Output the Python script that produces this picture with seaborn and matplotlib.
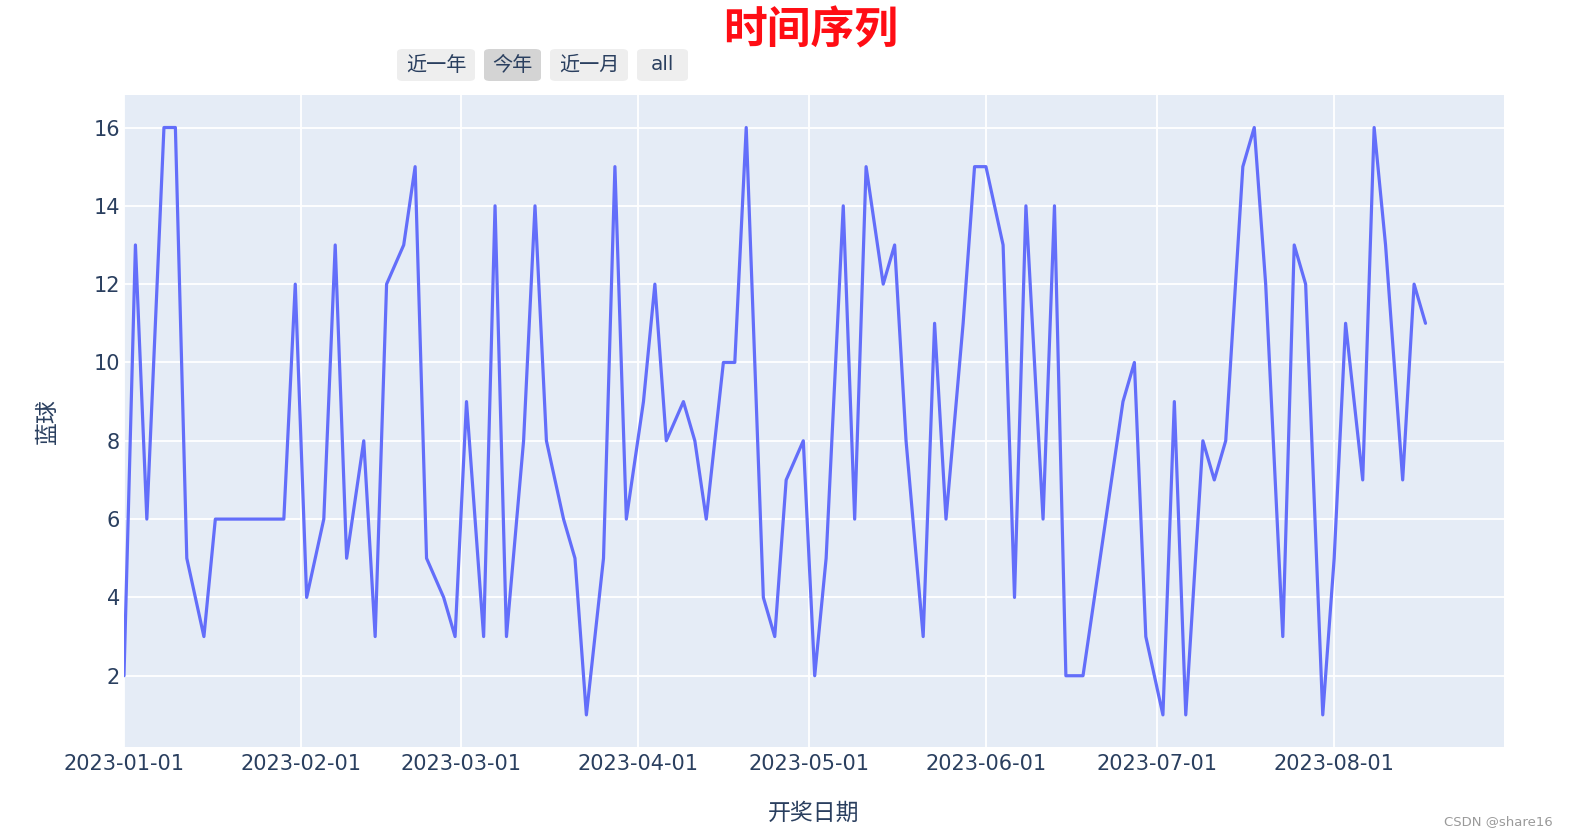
import pandas as pd
import matplotlib.pyplot as plt
import matplotlib.dates as mdates
from matplotlib.patches import FancyBboxPatch
import seaborn as sns

sns.set_style('white')
plt.rcParams['font.family'] = ['DejaVu Sans', 'Noto Sans CJK SC']

# 开奖日期 / 蓝球
dates = [
    '2023-01-01', '2023-01-03', '2023-01-05', '2023-01-08', '2023-01-10', '2023-01-12',
    '2023-01-15', '2023-01-17', '2023-01-29', '2023-01-31', '2023-02-02', '2023-02-05',
    '2023-02-07', '2023-02-09', '2023-02-12', '2023-02-14', '2023-02-16', '2023-02-19',
    '2023-02-21', '2023-02-23', '2023-02-26', '2023-02-28', '2023-03-02', '2023-03-05',
    '2023-03-07', '2023-03-09', '2023-03-12', '2023-03-14', '2023-03-16', '2023-03-19',
    '2023-03-21', '2023-03-23', '2023-03-26', '2023-03-28', '2023-03-30', '2023-04-02',
    '2023-04-04', '2023-04-06', '2023-04-09', '2023-04-11', '2023-04-13', '2023-04-16',
    '2023-04-18', '2023-04-20', '2023-04-23', '2023-04-25', '2023-04-27', '2023-04-30',
    '2023-05-02', '2023-05-04', '2023-05-07', '2023-05-09', '2023-05-11', '2023-05-14',
    '2023-05-16', '2023-05-18', '2023-05-21', '2023-05-23', '2023-05-25', '2023-05-28',
    '2023-05-30', '2023-06-01', '2023-06-04', '2023-06-06', '2023-06-08', '2023-06-11',
    '2023-06-13', '2023-06-15', '2023-06-18', '2023-06-20', '2023-06-22', '2023-06-25',
    '2023-06-27', '2023-06-29', '2023-07-02', '2023-07-04', '2023-07-06', '2023-07-09',
    '2023-07-11', '2023-07-13', '2023-07-16', '2023-07-18', '2023-07-20', '2023-07-23',
    '2023-07-25', '2023-07-27', '2023-07-30', '2023-08-01', '2023-08-03', '2023-08-06',
    '2023-08-08', '2023-08-10', '2023-08-13', '2023-08-15', '2023-08-17',
]
blue_ball = [
    2, 13, 6, 16, 16, 5,
    3, 6, 6, 12, 4, 6,
    13, 5, 8, 3, 12, 13,
    15, 5, 4, 3, 9, 3,
    14, 3, 8, 14, 8, 6,
    5, 1, 5, 15, 6, 9,
    12, 8, 9, 8, 6, 10,
    10, 16, 4, 3, 7, 8,
    2, 5, 14, 6, 15, 12,
    13, 8, 3, 11, 6, 11,
    15, 15, 13, 4, 14, 6,
    14, 2, 2, 4, 6, 9,
    10, 3, 1, 9, 1, 8,
    7, 8, 15, 16, 12, 3,
    13, 12, 1, 5, 11, 7,
    16, 13, 7, 12, 11,
]
buttons = ['近一年', '今年', '近一月', 'all']
active_button = '今年'

df = pd.DataFrame({'开奖日期': pd.to_datetime(dates), '蓝球': blue_ball})

W, H = 1574, 840
fig = plt.figure(figsize=(W / 100, H / 100), dpi=100)
ax = fig.add_axes([124 / W, 1 - 747 / H, 1380 / W, (747 - 95) / H])

txt_color = '#2a3f5f'
sns.lineplot(data=df, x='开奖日期', y='蓝球', ax=ax, color='#636efa', linewidth=2.3)

ax.set_facecolor('#e5ecf6')
for s in ax.spines.values():
    s.set_visible(False)
ax.grid(True, color='white', linewidth=1.3)
ax.set_axisbelow(True)

ax.set_xlim(pd.Timestamp('2023-01-01'), pd.Timestamp('2023-08-30 18:00'))
ax.set_ylim(0.18, 16.83)
ax.set_yticks(range(2, 17, 2))
ax.xaxis.set_major_locator(mdates.MonthLocator())
ax.xaxis.set_major_formatter(mdates.DateFormatter('%Y-%m-%d'))
ax.tick_params(axis='both', length=0, labelsize=15, colors=txt_color)
ax.tick_params(axis='x', pad=5)
ax.tick_params(axis='y', pad=3)

ax.set_xlabel('开奖日期', fontsize=16.5, color=txt_color, labelpad=20)
ax.set_ylabel('蓝球', fontsize=16.5, color=txt_color, labelpad=25)

fig.text(811 / W, 1 - 31 / H, '时间序列', ha='center', va='center',
         fontsize=31.5, fontweight='bold', color='#ff0d14')

# range selector buttons
edges = [(397, 475), (484, 541), (550, 628), (637, 688)]
for lab, (x0, x1) in zip(buttons, edges):
    fc = '#d4d4d4' if lab == active_button else '#eeeeee'
    box = FancyBboxPatch((x0 / W, 1 - 81 / H), (x1 - x0) / W, 32 / H,
                         boxstyle='round,pad=0,rounding_size=0.004',
                         transform=fig.transFigure, fc=fc, ec='none')
    fig.patches.append(box)
    fig.text((x0 + x1) / 2 / W, 1 - 65 / H, lab, ha='center', va='center',
             fontsize=14.5, color=txt_color)

fig.text(1553 / W, 1 - 822 / H, 'CSDN @share16', ha='right', va='center',
         fontsize=9.5, color='#9a9a9a')

fig.savefig('out.png', dpi=100)
